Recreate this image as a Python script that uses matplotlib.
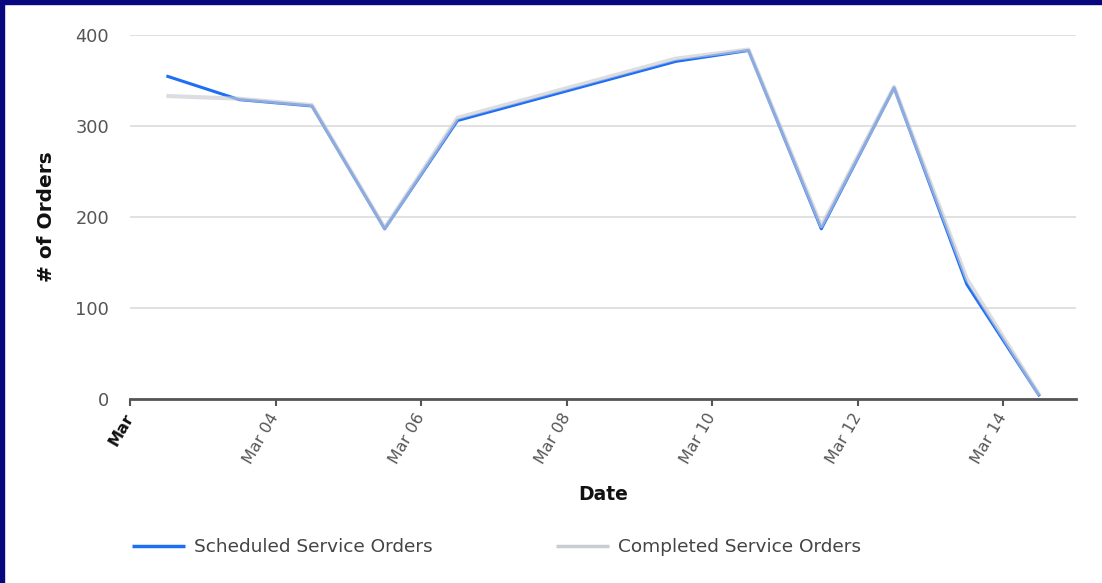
import matplotlib
matplotlib.use("Agg")
import matplotlib.pyplot as plt
from matplotlib.patches import Rectangle
import pandas as pd

# data (points sit at noon of each day)
dates = pd.to_datetime([
    "2015-03-02 12:00", "2015-03-03 12:00", "2015-03-04 12:00", "2015-03-05 12:00",
    "2015-03-06 12:00", "2015-03-09 12:00", "2015-03-10 12:00", "2015-03-11 12:00",
    "2015-03-12 12:00", "2015-03-13 12:00", "2015-03-14 12:00",
])
scheduled = [355, 329, 322, 187, 306, 371, 383, 187, 342, 126, 3]
completed = [333, 330, 323, 188, 309, 374, 384, 190, 343, 132, 4]

tick_dates = pd.to_datetime(["2015-03-02", "2015-03-04", "2015-03-06", "2015-03-08",
                             "2015-03-10", "2015-03-12", "2015-03-14"])
tick_labels = ["Mar", "Mar 04", "Mar 06", "Mar 08", "Mar 10", "Mar 12", "Mar 14"]
y_ticks = [0, 100, 200, 300, 400]

W, H = 1102, 583
fig = plt.figure(figsize=(W / 100, H / 100), dpi=100)
ax = fig.add_axes([130 / W, 1 - 399 / H, (1076 - 130) / W, (399 - 35) / H])

ax.plot(dates, scheduled, color="#1f6ff5", lw=2.2, label="Scheduled Service Orders",
        solid_capstyle="butt", zorder=3)
ax.plot(dates, completed, color="#c9ccd2", lw=3, alpha=0.65, label="Completed Service Orders",
        solid_capstyle="butt", zorder=4)

ax.set_xlim(pd.Timestamp("2015-03-02"), pd.Timestamp("2015-03-15"))
ax.set_ylim(0, 400)
ax.set_yticks(y_ticks)
ax.set_xticks(tick_dates)
ax.set_xticklabels(tick_labels, rotation=60, ha="right", va="center",
                   rotation_mode="anchor", color="#555555", fontsize=11.5)
ax.get_xticklabels()[0].set_fontweight("bold")
ax.get_xticklabels()[0].set_color("#111111")

ax.grid(axis="y", color="#dcdcdc", lw=1.2)
ax.set_axisbelow(True)
for s in ["top", "right", "left"]:
    ax.spines[s].set_visible(False)
ax.spines["bottom"].set_color("#555555")
ax.spines["bottom"].set_linewidth(2)
ax.tick_params(axis="y", length=0, pad=15, labelcolor="#555555", labelsize=12.8)
ax.tick_params(axis="x", length=5, width=1.5, color="#555555", pad=6)

ax.set_ylabel("# of Orders", fontsize=14.5, fontweight="bold", color="#111111")
ax.yaxis.set_label_coords(-0.078, 0.5)
ax.set_xlabel("Date", fontsize=13.5, fontweight="bold", color="#111111")
ax.xaxis.set_label_coords(0.5, -0.235)

leg = fig.legend(loc="center left", bbox_to_anchor=(132 / W, 1 - 547 / H), ncol=2,
                 frameon=False, fontsize=13.3, handlelength=2.85, handletextpad=0.5,
                 columnspacing=6.7, borderpad=0, borderaxespad=0)
for t in leg.get_texts():
    t.set_color("#444444")
for h in leg.get_lines():
    h.set_linewidth(2.5)
    h.set_alpha(1)

# navy frame on the top and left edges
fig.patches.append(Rectangle((0, 1 - 4 / H), 1, 4 / H, transform=fig.transFigure,
                             color="#07077f", zorder=10))
fig.patches.append(Rectangle((0, 0), 4 / W, 1, transform=fig.transFigure,
                             color="#07077f", zorder=10))

fig.savefig("out.png", dpi=100)
